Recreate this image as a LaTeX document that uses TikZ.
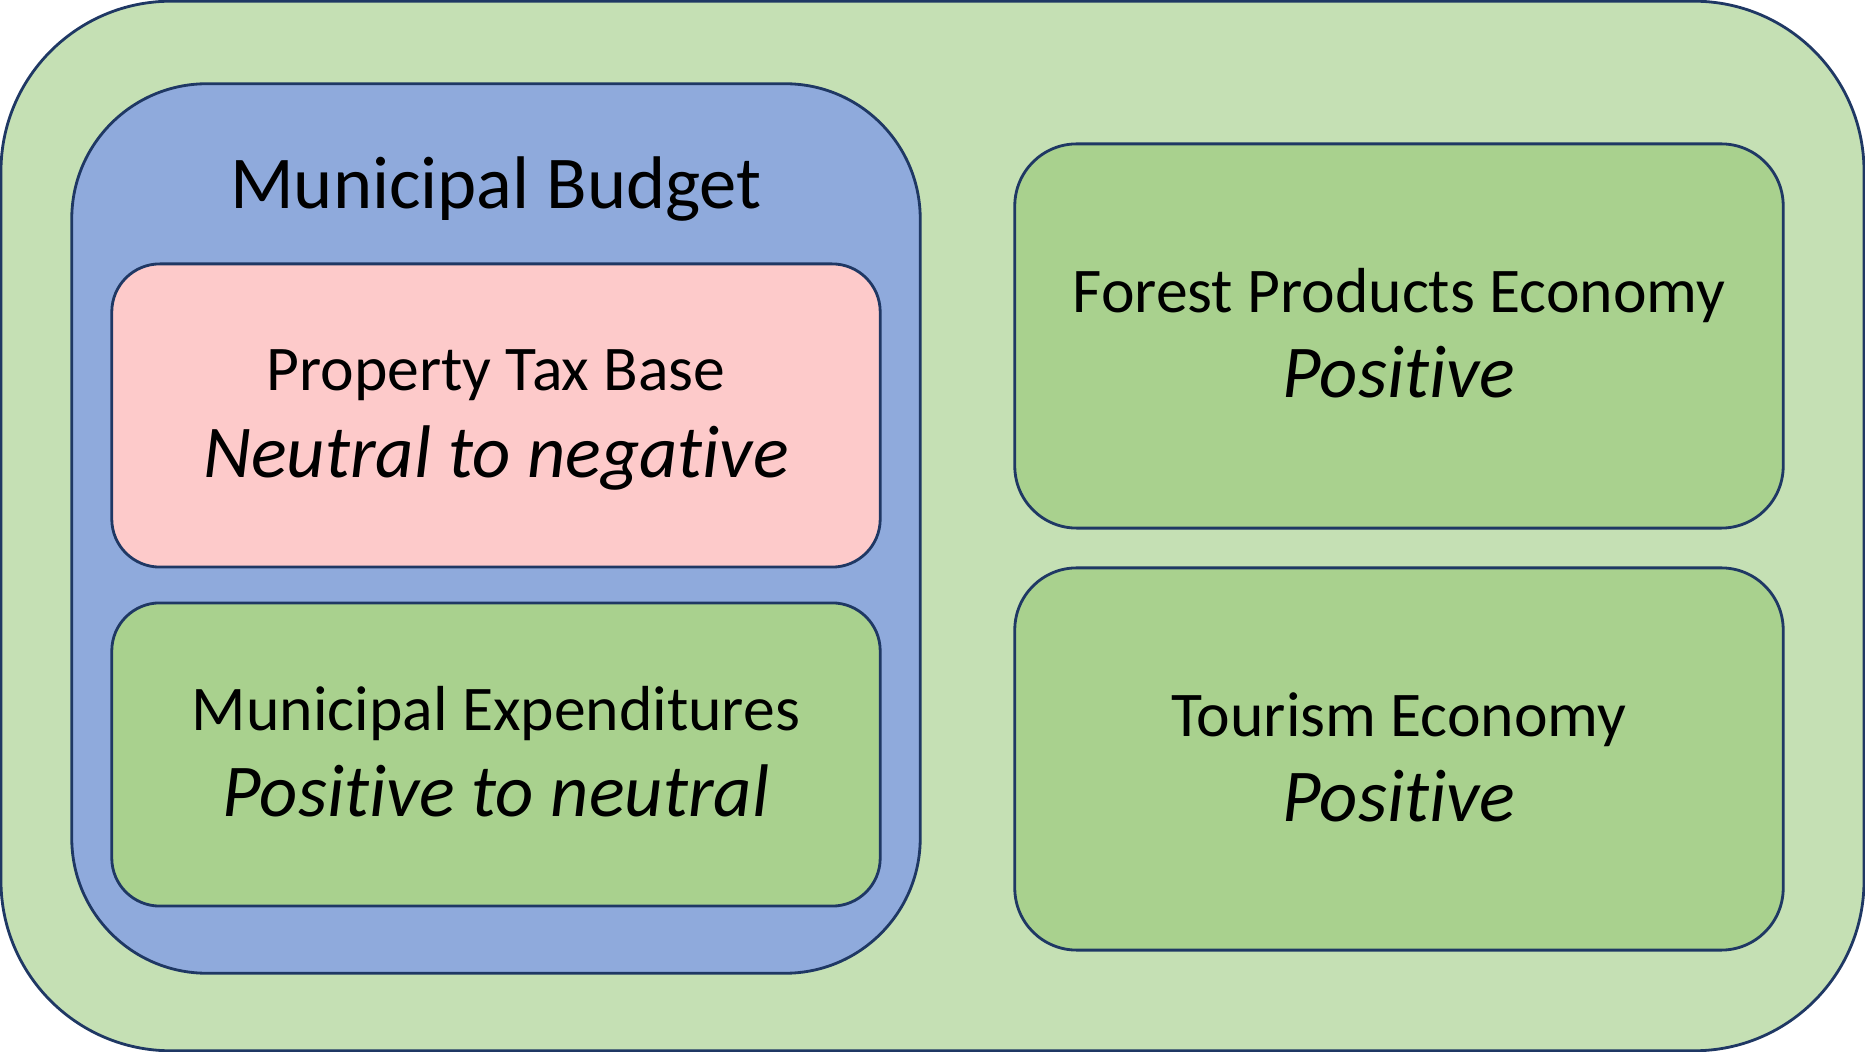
\documentclass[tikz,border=0pt]{standalone}
\usepackage{fontspec}
\setmainfont{Carlito}[Ligatures=NoCommon]
\usepackage{tikz}
\usepackage{xcolor}
\usetikzlibrary{positioning}
\definecolor{outergreen}{HTML}{C5E0B4}
\definecolor{budgetblue}{HTML}{8FAADC}
\definecolor{taxpink}{HTML}{FDCACA}
\definecolor{econgreen}{HTML}{A9D18E}
\definecolor{edgenavy}{HTML}{1F3864}
\newcommand{\lblfont}{\fontsize{18.1}{21}\selectfont}
\newcommand{\bigfont}{\fontsize{21.2}{25}\selectfont}

\begin{document}
\begin{tikzpicture}[x=0.01cm, y=-0.01cm,
    box/.style={draw=edgenavy, line width=0.8pt, rectangle, inner sep=0pt},
    lbl/.style={anchor=base, inner sep=0pt, font=\lblfont},
    val/.style={anchor=base, inner sep=0pt, font=\bigfont\itshape}]
     \useasboundingbox (0,0) rectangle (1865,1052);
     % outer frame and the budget group
     \node[box, fill=outergreen, minimum width=18.62cm, minimum height=10.49cm, rounded corners=1.7cm] (outer) at (932.5,526) {};
     \node[box, fill=budgetblue, minimum width=8.48cm, minimum height=8.89cm, rounded corners=1.35cm] (budget) at (496,528.5) {};
     \node[box, fill=taxpink, minimum width=7.68cm, minimum height=3.03cm, rounded corners=0.48cm] (taxbase) at (496,415.5) {};
     \node[box, fill=econgreen, minimum width=7.68cm, minimum height=3.03cm, rounded corners=0.48cm] (expend) at (496,754.5) {};
     % the two economies
     \node[box, fill=econgreen, minimum width=7.68cm, minimum height=3.84cm, rounded corners=0.62cm] (forest) at (1399,336) {};
     \node[box, fill=econgreen, minimum width=7.68cm, minimum height=3.82cm, rounded corners=0.62cm] (tourism) at (1399,759) {};
     % texts
     \node[anchor=base, inner sep=0pt, font=\bigfont] (budgetlbl) at (496,209) {Municipal Budget};
     \node[lbl] (taxlbl) at (496,391) {Property Tax Base};
     \node[val] (taxval) at (496,478) {Neutral to negative};
     \node[lbl] (expendlbl) at (496,731) {Municipal Expenditures};
     \node[val] (expendval) at (496,817) {Positive to neutral};
     \node[lbl] (forestlbl) at (1399,313) {Forest Products Economy};
     \node[val] (forestval) at (1399,398) {Positive};
     \node[lbl] (tourismlbl) at (1399,737) {Tourism Economy};
     \node[val] (tourismval) at (1399,822) {Positive};
   \end{tikzpicture}
\end{document}
